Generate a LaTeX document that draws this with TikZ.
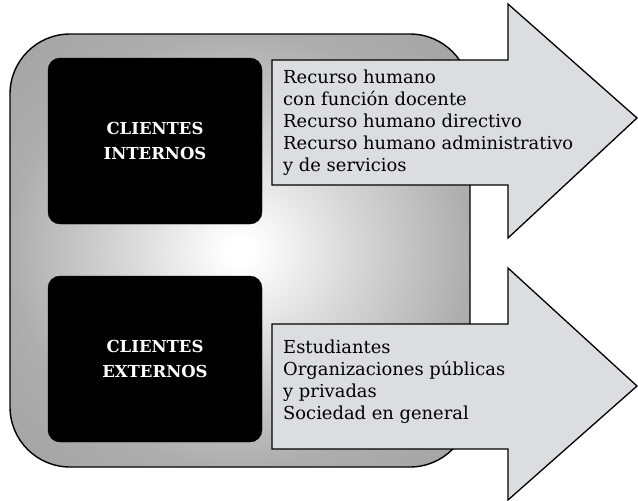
\documentclass[tikz,border=0pt]{standalone}
\usepackage{fontspec}
\newfontfamily\dvs{DejaVu Serif}
\definecolor{arrowfill}{RGB}{220,221,224}
\pgfdeclareradialshading{bgshade}{\pgfpoint{0bp}{0bp}}{color(0bp)=(white); color(1.5bp)=(white); color(12bp)=(black!15); color(25bp)=(black!32); color(50bp)=(black!42)}
\tikzset{
  panel/.style={draw=black, line width=1.4pt, rounded corners=60pt, shading=bgshade},
  clientbox/.style={fill=black, draw=black, rounded corners=12pt, minimum width=214pt, minimum height=166pt, text=white, align=center, font=\dvs\bfseries\fontsize{16.5}{25}\selectfont, inner sep=0pt},
  bigarrow/.style={draw=black, line width=1.3pt, fill=arrowfill, line join=miter},
  listtext/.style={anchor=west, align=left, inner sep=0pt, font=\dvs\fontsize{17.9}{22}\selectfont}
}
\begin{document}
\begin{tikzpicture}[x=1pt,y=-1pt]
\useasboundingbox (0,0) rectangle (638,501);
% background panel
\node[panel, minimum width=460pt, minimum height=433pt, inner sep=0pt] (panel) at (240,250.5) {};
% client boxes
\node[clientbox] (internos) at (155,141) {CLIENTES\\INTERNOS};
\node[clientbox] (externos) at (155,359) {CLIENTES\\EXTERNOS};
% arrow 1
\coordinate (a1a) at (272,60);
\coordinate (a1b) at (508,60);
\coordinate (a1c) at (508,4);
\coordinate (a1tip) at (637,118);
\coordinate (a1d) at (508,238);
\coordinate (a1e) at (508,185);
\coordinate (a1f) at (272,185);
\draw[bigarrow] (a1a) -- (a1b) -- (a1c) -- (a1tip) -- (a1d) -- (a1e) -- (a1f) -- cycle;
% arrow 2
\coordinate (a2a) at (272,324);
\coordinate (a2b) at (508,324);
\coordinate (a2c) at (508,268);
\coordinate (a2tip) at (637,386);
\coordinate (a2d) at (508,500);
\coordinate (a2e) at (508,449);
\coordinate (a2f) at (272,449);
\draw[bigarrow] (a2a) -- (a2b) -- (a2c) -- (a2tip) -- (a2d) -- (a2e) -- (a2f) -- cycle;
% texts
\node[listtext] (t1) at (283,122.5) {Recurso humano\\con función docente\\Recurso humano directivo\\Recurso humano administrativo\\y de servicios};
\node[listtext] (t2) at (283,381.5) {Estudiantes\\Organizaciones públicas\\y privadas\\Sociedad en general};
\end{tikzpicture}
\end{document}
